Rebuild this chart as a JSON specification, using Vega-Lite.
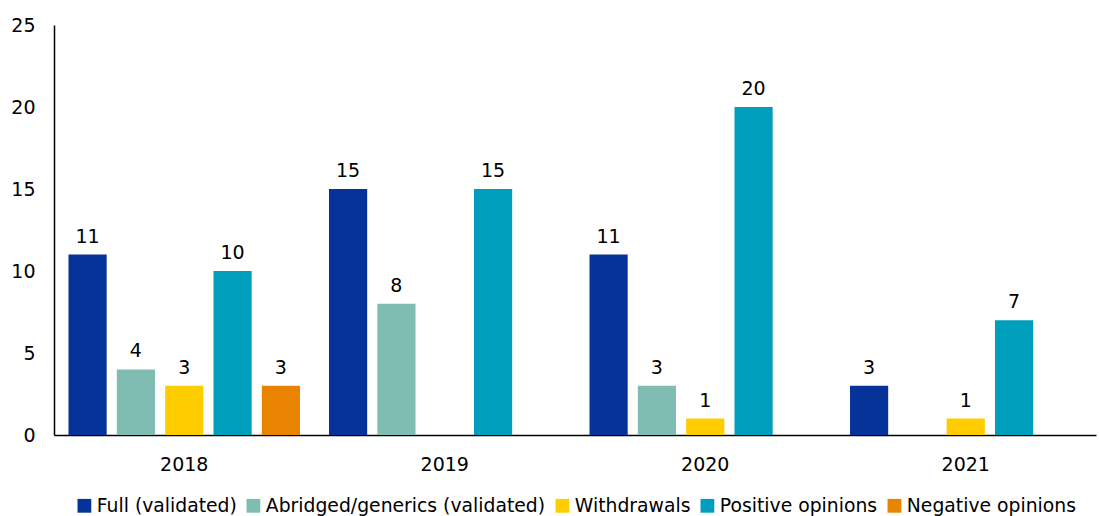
{
  "$schema": "https://vega.github.io/schema/vega-lite/v6.json",
  "width": 1042,
  "height": 410,
  "padding": {"left": 10, "top": 16, "right": 2, "bottom": 0},
  "config": {
    "view": {"stroke": null},
    "font": "DejaVu Sans",
    "text": {"font": "DejaVu Sans"},
    "legend": {"layout": {"bottom": {"anchor": "middle"}}}
  },
  "data": {
    "values": [
      {"year": "2018", "type": "Full (validated)", "value": 11},
      {"year": "2018", "type": "Abridged/generics (validated)", "value": 4},
      {"year": "2018", "type": "Withdrawals", "value": 3},
      {"year": "2018", "type": "Positive opinions", "value": 10},
      {"year": "2018", "type": "Negative opinions", "value": 3},
      {"year": "2019", "type": "Full (validated)", "value": 15},
      {"year": "2019", "type": "Abridged/generics (validated)", "value": 8},
      {"year": "2019", "type": "Positive opinions", "value": 15},
      {"year": "2020", "type": "Full (validated)", "value": 11},
      {"year": "2020", "type": "Abridged/generics (validated)", "value": 3},
      {"year": "2020", "type": "Withdrawals", "value": 1},
      {"year": "2020", "type": "Positive opinions", "value": 20},
      {"year": "2021", "type": "Full (validated)", "value": 3},
      {"year": "2021", "type": "Withdrawals", "value": 1},
      {"year": "2021", "type": "Positive opinions", "value": 7}
    ]
  },
  "encoding": {
    "x": {
      "field": "year", "type": "nominal",
      "scale": {"paddingInner": 0, "paddingOuter": 0},
      "axis": {"title": null, "labelAngle": 0, "ticks": false, "labelFontSize": 19, "labelColor": "#000", "labelPadding": 20, "domainColor": "#000", "domainWidth": 1.5}
    },
    "xOffset": {
      "field": "type", "type": "nominal",
      "scale": {"domain": ["Full (validated)", "Abridged/generics (validated)", "Withdrawals", "Positive opinions", "Negative opinions"], "paddingInner": 0.21, "paddingOuter": 0.3}
    },
    "y": {
      "field": "value", "type": "quantitative",
      "scale": {"domain": [0, 25]},
      "axis": {"title": null, "values": [0, 5, 10, 15, 20, 25], "grid": false, "ticks": false, "labelFontSize": 19, "labelColor": "#000", "labelPadding": 19, "domainColor": "#000", "domainWidth": 1.5}
    }
  },
  "layer": [
    {
      "mark": {"type": "bar"},
      "encoding": {
        "color": {
          "field": "type", "type": "nominal",
          "scale": {
            "domain": ["Full (validated)", "Abridged/generics (validated)", "Withdrawals", "Positive opinions", "Negative opinions"],
            "range": ["#063399", "#7fbcb2", "#ffcc00", "#009ebd", "#e88400"]
          },
          "legend": {
            "title": null, "orient": "bottom", "direction": "horizontal",
            "symbolType": "square", "symbolSize": 190, "symbolStrokeWidth": 0, "symbolOpacity": 1,
            "labelFontSize": 18.8, "labelColor": "#000", "labelLimit": 400, "columnPadding": 7, "labelOffset": 3, "offset": 22
          }
        }
      }
    },
    {
      "mark": {"type": "text", "baseline": "bottom", "dy": -8, "fontSize": 19, "color": "#000"},
      "encoding": {"text": {"field": "value", "type": "quantitative"}}
    }
  ]
}
